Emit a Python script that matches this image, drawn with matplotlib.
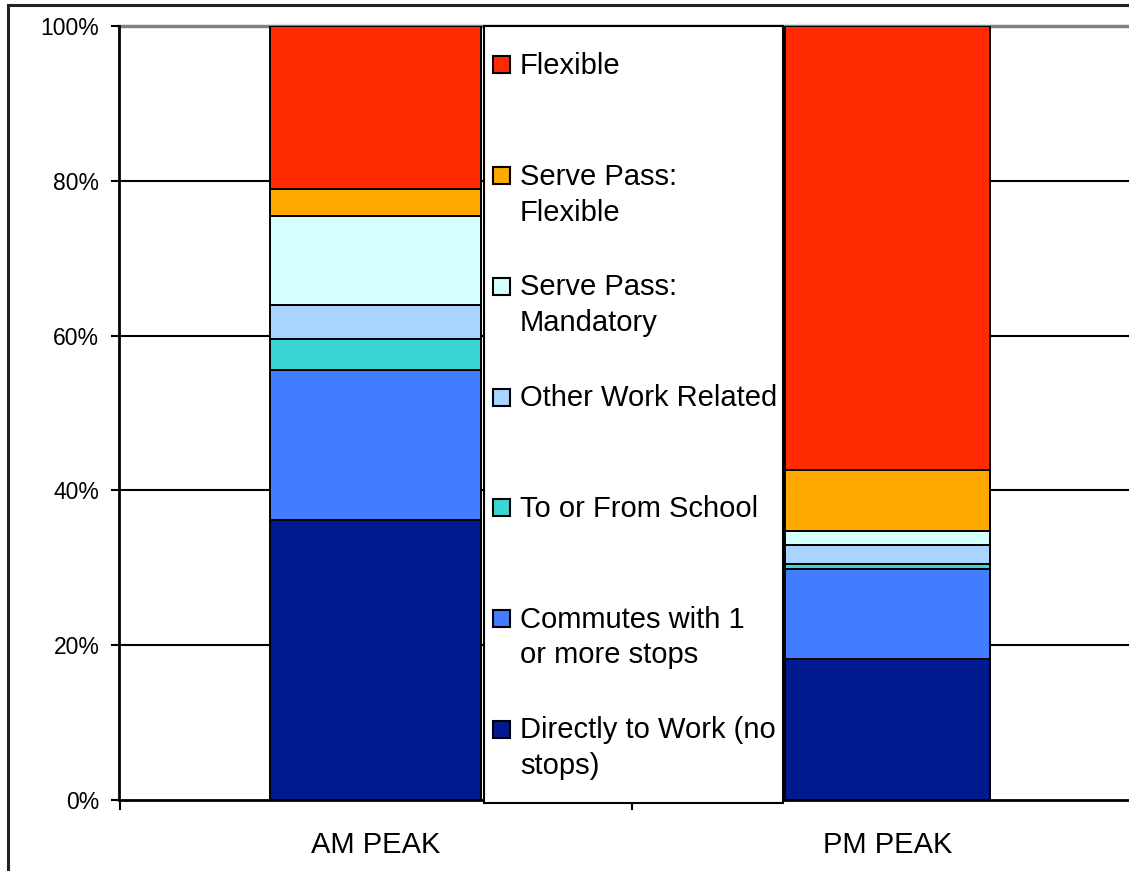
import matplotlib.pyplot as plt
import matplotlib.patches as mpatches
import numpy as np

plt.rcParams['font.family'] = ['Liberation Sans', 'DejaVu Sans']

# stacking order, bottom to top
trip_types = ["Directly to Work (no\nstops)", "Commutes with 1\nor more stops", "To or From School",
              "Other Work Related", "Serve Pass:\nMandatory", "Serve Pass:\nFlexible", "Flexible"]
am_peak = [36.2, 19.4, 4.0, 4.4, 11.5, 3.5, 21.0]
pm_peak = [18.2, 11.6, 0.7, 2.5, 1.8, 7.8, 57.4]
periods = ["AM PEAK", "PM PEAK"]
colors = ["#001A90", "#427CFF", "#3AD5D5", "#A8D4FF", "#D5FFFF", "#FFA800", "#FF2A00"]

W, H = 1129, 871
def fx(px):
	return px / W
def fy(py):
	return 1 - py / H

fig = plt.figure(figsize=(W / 100, H / 100), dpi=100)
ax = fig.add_axes([fx(119.5), fy(800), 1024 / W, (800 - 26) / H])

x = np.arange(len(periods))
values = np.array([am_peak, pm_peak])
bottom = np.zeros(len(periods))
for i in range(len(trip_types)):
	ax.bar(x, values[:, i], [0.412, 0.402], bottom=bottom, color=colors[i], edgecolor='black', linewidth=1.4, zorder=2)
	bottom += values[:, i]

ax.set_xlim(-0.5, 1.5)
ax.set_ylim(0, 100)

# gridlines
for g in [20, 40, 60, 80]:
	ax.axhline(g, color='black', linewidth=1.5, zorder=0.5)
ax.axhline(100, color='#808080', linewidth=2.5, zorder=0.5, clip_on=False)

ax.spines['top'].set_visible(False)
ax.spines['right'].set_visible(False)
ax.spines['left'].set_linewidth(2)
ax.spines['bottom'].set_linewidth(2)
ax.spines['bottom'].set_zorder(3)

ax.set_yticks([0, 20, 40, 60, 80, 100])
ax.set_yticklabels(["0%", "20%", "40%", "60%", "80%", "100%"], fontsize=16.5)
ax.tick_params(axis='y', length=5.5, width=1.5, pad=9, direction='out')

ax.set_xticks([-0.5, 0.5, 1.5])
ax.set_xticklabels([])
ax.tick_params(axis='x', which='major', length=7, width=1.5, direction='out')
ax.set_xticks(x, minor=True)
ax.set_xticklabels(periods, minor=True, fontsize=21)
ax.tick_params(axis='x', which='minor', length=0, pad=22)

# figure border (only top and left edges fall inside the picture)
fig.patches.append(mpatches.Rectangle((fx(8), fy(5) - 1.5), 1.5, 1.5, transform=fig.transFigure,
	facecolor='none', edgecolor='#222222', linewidth=2.2, figure=fig))

# legend drawn by hand to match the original box
fig.add_artist(mpatches.Rectangle((fx(484), fy(803)), (783 - 484) / W, (803 - 26) / H,
	transform=fig.transFigure, facecolor='white', edgecolor='black', linewidth=1.5, zorder=10))
for j, i in enumerate(range(len(trip_types) - 1, -1, -1)):
	cy = 65 + j * 110.7
	fig.add_artist(mpatches.Rectangle((fx(493), fy(cy + 8.5)), 17 / W, 17 / H, transform=fig.transFigure,
		facecolor=colors[i], edgecolor='black', linewidth=1.5, zorder=11))
	fig.text(fx(520), fy(cy - 13), trip_types[i], fontsize=21, va='top', ha='left',
		linespacing=1.36, zorder=12)

plt.savefig('out.png', dpi=100)
